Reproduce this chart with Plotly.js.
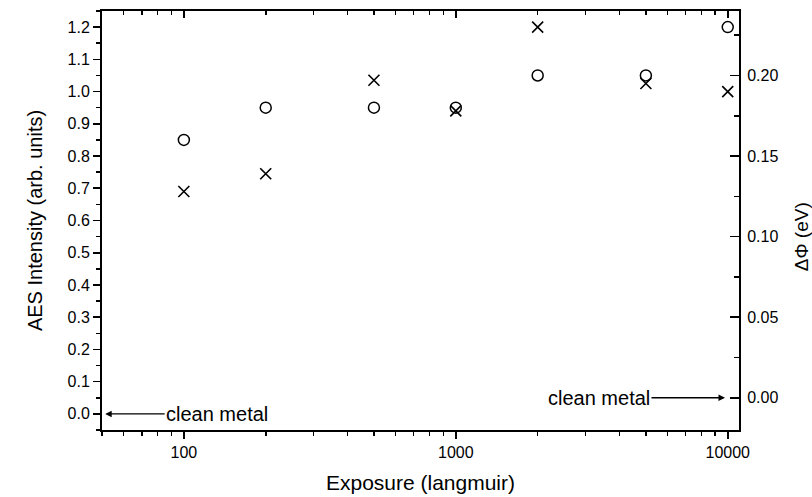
<!DOCTYPE html>
<html><head><meta charset="utf-8">
<script src="https://cdn.plot.ly/plotly-3.0.1.min.js"></script>
<style>html,body{margin:0;padding:0;background:#fff}</style>
</head><body><div id="chart" style="width:812px;height:497px"></div>
<script>
// Data
const exposure = [100, 200, 500, 1000, 2000, 5000, 10000];
const aesIntensity = [0.85, 0.95, 0.95, 0.95, 1.05, 1.05, 1.20];
const deltaPhi = [0.128, 0.139, 0.197, 0.178, 0.230, 0.195, 0.190];

// Tick definitions
const xMajorTicks = [100, 1000, 10000];
const xMajorLabels = ['100', '1000', '10000'];
const xMinorTicks = [50, 60, 70, 80, 90, 200, 300, 400, 500, 600, 700, 800, 900,
                     2000, 3000, 4000, 5000, 6000, 7000, 8000, 9000];
const leftTicks = [0.0, 0.1, 0.2, 0.3, 0.4, 0.5, 0.6, 0.7, 0.8, 0.9, 1.0, 1.1, 1.2];
const leftLabels = ['0.0','0.1','0.2','0.3','0.4','0.5','0.6','0.7','0.8','0.9','1.0','1.1','1.2'];
const leftMinor = [-0.05, 0.05, 0.15, 0.25, 0.35, 0.45, 0.55, 0.65, 0.75, 0.85, 0.95, 1.05, 1.15, 1.25];
const rightTicks = [0.00, 0.05, 0.10, 0.15, 0.20];
const rightLabels = ['0.00', '0.05', '0.10', '0.15', '0.20'];
const rightMinor = [0.025, 0.075, 0.125, 0.175, 0.225];

const FONT = '"Liberation Sans", Arial, Helvetica, sans-serif';
const xRange = [Math.log10(50), Math.log10(11000)];

const traces = [
  {
    x: exposure, y: aesIntensity, type: 'scatter', mode: 'markers',
    name: 'AES Intensity', xaxis: 'x', yaxis: 'y',
    marker: {symbol: 'circle-open', size: 11, color: '#000', line: {width: 1.5, color: '#000'}}
  },
  {
    x: exposure, y: deltaPhi, type: 'scatter', mode: 'markers',
    name: 'ΔΦ', xaxis: 'x', yaxis: 'y2',
    marker: {symbol: 'x-thin-open', size: 11, color: '#000', line: {width: 1.6, color: '#000'}}
  },
  { x: [], y: [], type: 'scatter', mode: 'markers', xaxis: 'x2', yaxis: 'y',
    showlegend: false, hoverinfo: 'skip' }
];

const axisCommon = {
  showline: true, linecolor: '#000', linewidth: 2, showgrid: false, zeroline: false,
  tickcolor: '#000', tickwidth: 1.6, tickfont: {family: FONT, size: 16, color: '#000'}
};

const layout = {
  width: 812, height: 497,
  margin: {l: 102, r: 73, t: 11, b: 67},
  paper_bgcolor: '#fff', plot_bgcolor: '#fff',
  showlegend: false,
  font: {family: FONT, color: '#000'},
  xaxis: Object.assign({}, axisCommon, {
    type: 'log', range: xRange, anchor: 'y',
    tickmode: 'array', tickvals: xMajorTicks, ticktext: xMajorLabels,
    ticks: 'outside', ticklen: 7, ticklabelstandoff: 0,
    minor: {tickmode: 'array', tickvals: xMinorTicks, ticks: 'outside', ticklen: 4, tickwidth: 1.6, tickcolor: '#000'},
    title: {text: 'Exposure (langmuir)', font: {family: FONT, size: 21, color: '#000'}, standoff: 15}
  }),
  xaxis2: Object.assign({}, axisCommon, {
    type: 'log', range: xRange, overlaying: 'x', side: 'top', anchor: 'y',
    tickmode: 'array', tickvals: xMajorTicks, showticklabels: false,
    ticks: 'inside', ticklen: 7,
    minor: {tickmode: 'array', tickvals: xMinorTicks, ticks: 'inside', ticklen: 4, tickwidth: 1.6, tickcolor: '#000'}
  }),
  yaxis: Object.assign({}, axisCommon, {
    range: [-0.05, 1.25], anchor: 'x',
    tickmode: 'array', tickvals: leftTicks, ticktext: leftLabels,
    ticks: 'outside', ticklen: 7,
    minor: {tickmode: 'array', tickvals: leftMinor, ticks: 'outside', ticklen: 4, tickwidth: 1.6, tickcolor: '#000'},
    title: {text: 'AES Intensity (arb. units)', font: {family: FONT, size: 20, color: '#000'}, standoff: 20}
  }),
  yaxis2: Object.assign({}, axisCommon, {
    range: [-0.02, 0.24], overlaying: 'y', side: 'right', anchor: 'x',
    tickmode: 'array', tickvals: rightTicks, ticktext: rightLabels,
    ticks: 'inside', ticklen: 9, ticklabelstandoff: 3,
    minor: {tickmode: 'array', tickvals: rightMinor, ticks: 'inside', ticklen: 5, tickwidth: 1.6, tickcolor: '#000'}
  }),
  annotations: [
    {
      xref: 'paper', yref: 'y', x: 0.005, y: 0,
      text: 'clean metal', font: {family: FONT, size: 20, color: '#000'},
      showarrow: true, arrowhead: 2, arrowsize: 1, arrowwidth: 1.3, arrowcolor: '#000',
      axref: 'pixel', ayref: 'pixel', ax: 112, ay: 0, standoff: 0
    },
    {
      xref: 'paper', yref: 'y2', x: 0.978, y: 0,
      text: 'clean metal', font: {family: FONT, size: 20, color: '#000'},
      showarrow: true, arrowhead: 2, arrowsize: 1, arrowwidth: 1.3, arrowcolor: '#000',
      axref: 'pixel', ayref: 'pixel', ax: -126, ay: 0, standoff: 0
    },
    {
      xref: 'paper', yref: 'paper', x: 1, y: 0.46, xanchor: 'center', yanchor: 'middle',
      xshift: 62, textangle: -90, showarrow: false,
      text: 'ΔΦ (eV)', font: {family: FONT, size: 19, color: '#000'}
    }
  ]
};

Plotly.newPlot('chart', traces, layout, {displayModeBar: false, staticPlot: true});
</script>
</body></html>
